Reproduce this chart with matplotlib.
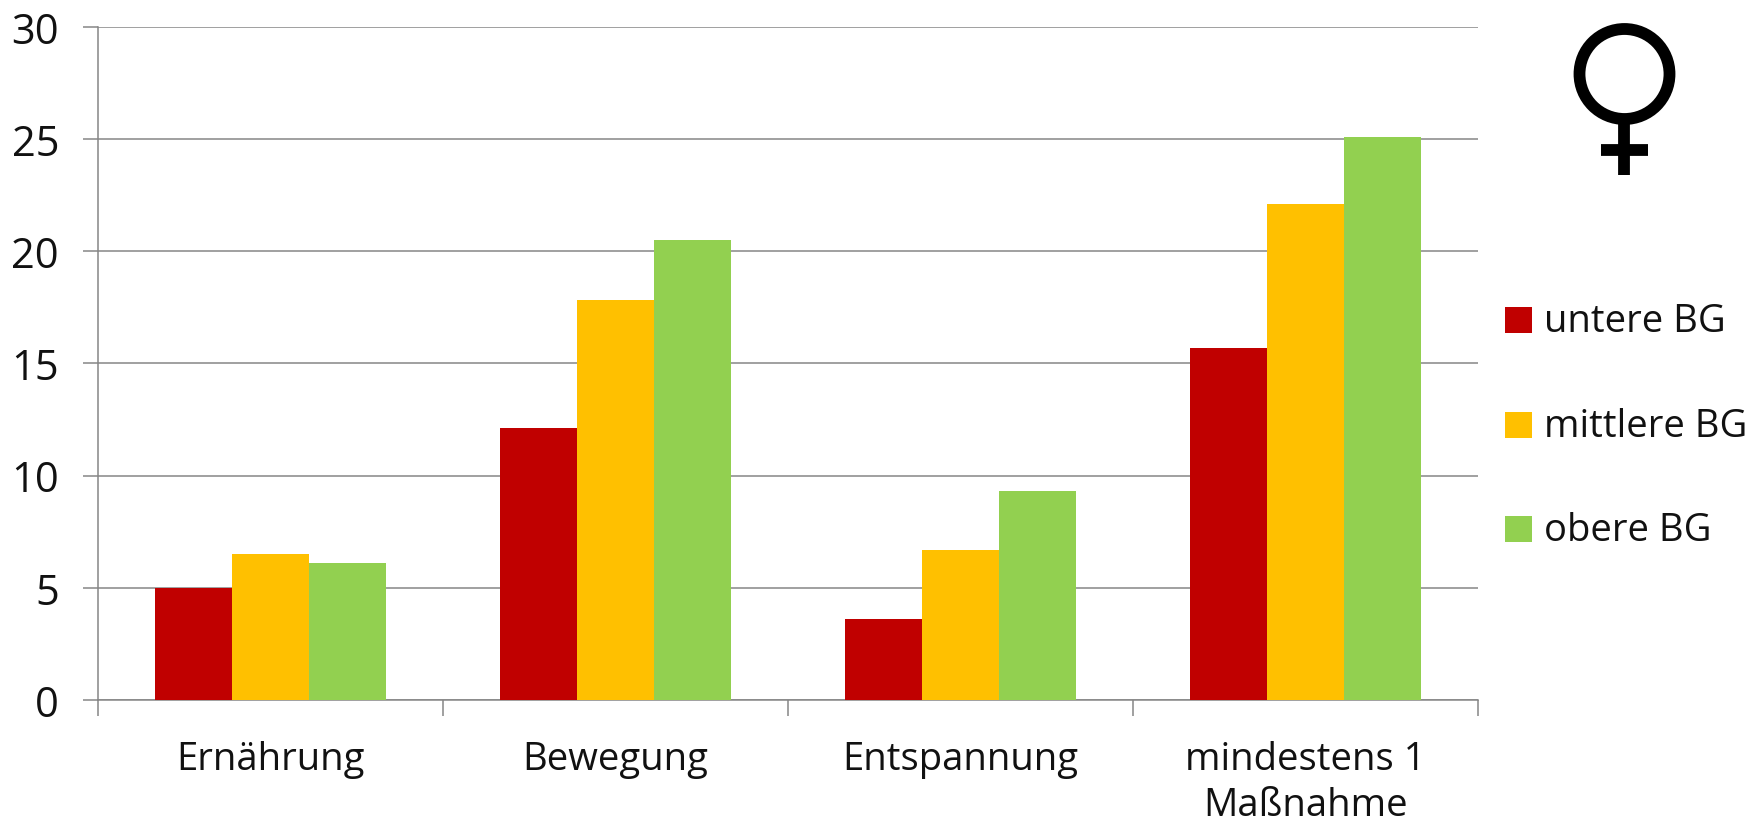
import matplotlib
matplotlib.use("Agg")
import matplotlib.pyplot as plt
import numpy as np

categories = ["Ernährung", "Bewegung", "Entspannung", "mindestens 1\nMaßnahme"]
series_names = ["untere BG", "mittlere BG", "obere BG"]
untere = [5.0, 12.1, 3.6, 15.7]
mittlere = [6.5, 17.8, 6.7, 22.1]
obere = [6.1, 20.5, 9.3, 25.1]
y_ticks = [0, 5, 10, 15, 20, 25, 30]
colors = ["#C00000", "#FFC000", "#92D050"]

W, H = 1765, 828
TEXT = "#111111"
AXIS = "#868686"
FS = 27.5
plt.rcParams["font.family"] = ["Open Sans", "DejaVu Sans"]
fig = plt.figure(figsize=(W / 100, H / 100), dpi=100)
L, R, T, B = 98, 1478, 27.5, 701
ax = fig.add_axes([L / W, 1 - B / H, (R - L) / W, (B - T) / H])

x = np.arange(len(categories))
bw = 0.2225
for i, (vals, c, name) in enumerate(zip([untere, mittlere, obere], colors, series_names)):
    ax.bar(x + (i - 1) * bw, vals, bw, color=c, label=name, zorder=3, linewidth=0)

ax.set_xlim(-0.5, 3.5)
ax.set_ylim(0, 30)
ax.set_yticks(y_ticks)
ax.set_xticks(x)
ax.set_xticklabels(categories, fontsize=FS, color=TEXT, linespacing=1.25)
ax.set_xticks(np.arange(-0.5, 4, 1), minor=True)
ax.tick_params(axis="x", which="major", length=0, pad=29)
ax.tick_params(axis="x", which="minor", length=11.5, color=AXIS, width=1.1)
ax.tick_params(axis="y", length=11, color=AXIS, width=1.1, labelsize=30, labelcolor=TEXT, pad=17)
ax.grid(axis="y", color=AXIS, linewidth=1.1, zorder=0)
for s in ("top", "right"):
    ax.spines[s].set_visible(False)
for s in ("left", "bottom"):
    ax.spines[s].set_color(AXIS)
    ax.spines[s].set_linewidth(1.1)

# Legend entries placed by hand to keep the wide row spacing
for name, c, py in zip(series_names, colors, [321, 426, 530]):
    fig.patches.append(plt.Rectangle((1505 / W, 1 - (py + 13) / H), 27 / W, 26 / H,
                                     transform=fig.transFigure, color=c, linewidth=0))
    fig.text(1544 / W, 1 - (py + 1) / H, name, fontsize=FS, va="center", color=TEXT)

# Venus symbol built from a ring and two strokes
ov = fig.add_axes([0, 0, 1, 1])
ov.set_xlim(0, W)
ov.set_ylim(H, 0)
ov.axis("off")
ov.patch.set_alpha(0)
ov.add_patch(plt.Circle((1624.5, 75), 45, fill=False, edgecolor="black", linewidth=8.5))
ov.plot([1624.5, 1624.5], [120, 176], color="black", lw=8.5, solid_capstyle="butt")
ov.plot([1601, 1648], [151, 151], color="black", lw=8.5, solid_capstyle="butt")

fig.savefig("out.png", dpi=100, facecolor="white")
